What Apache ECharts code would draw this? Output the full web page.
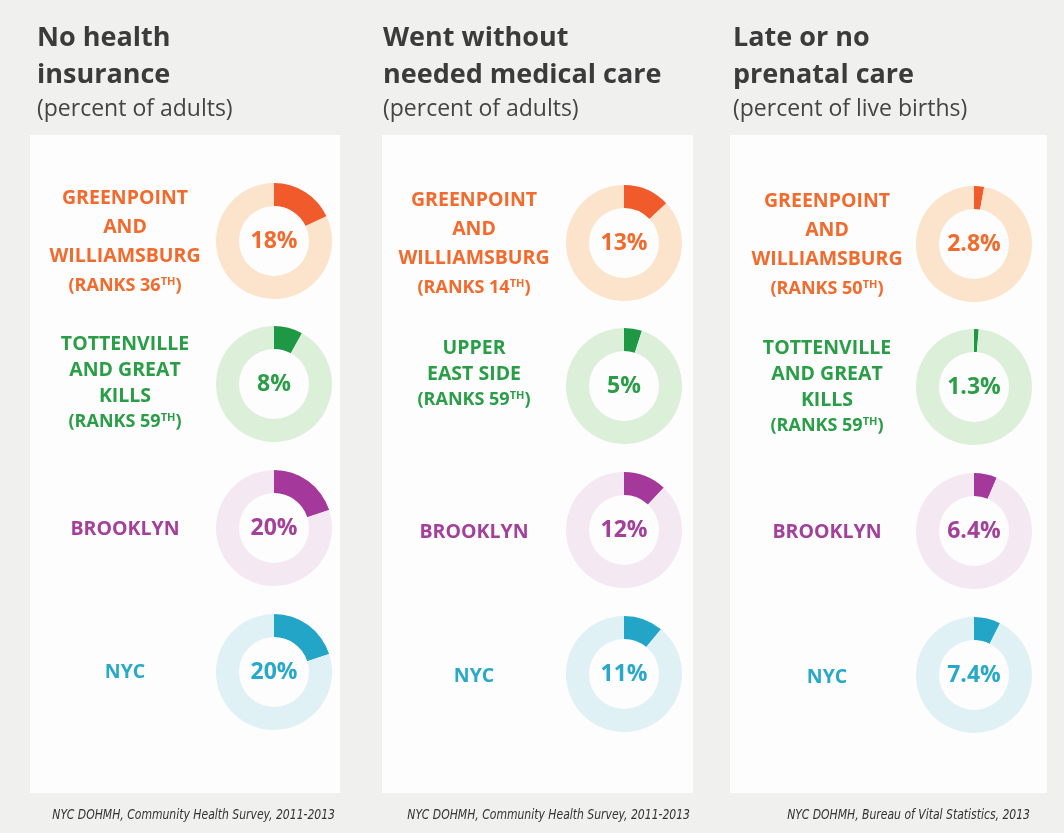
<!DOCTYPE html>
<html>
<head>
<meta charset="utf-8">
<script src="https://cdn.jsdelivr.net/npm/echarts@6/dist/echarts.min.js"></script>
<style>
  html, body { margin: 0; padding: 0; background: #f0f0ef; }
  #chart { width: 1064px; height: 833px; }
</style>
</head>
<body>
<div id="chart"></div>
<script>
// ---------- DATA ----------
const panelTitles = [
  ['No health', 'insurance'],
  ['Went without', 'needed medical care'],
  ['Late or no', 'prenatal care']
];
const panelSubtitles = ['(percent of adults)', '(percent of adults)', '(percent of live births)'];

const noInsuranceGroups = [['GREENPOINT', 'AND', 'WILLIAMSBURG'], ['TOTTENVILLE', 'AND GREAT', 'KILLS'], ['BROOKLYN'], ['NYC']];
const noInsuranceRanks = ['36', '59', null, null];
const noInsuranceValues = [18, 8, 20, 20];

const withoutCareGroups = [['GREENPOINT', 'AND', 'WILLIAMSBURG'], ['UPPER', 'EAST SIDE'], ['BROOKLYN'], ['NYC']];
const withoutCareRanks = ['14', '59', null, null];
const withoutCareValues = [13, 5, 12, 11];

const prenatalGroups = [['GREENPOINT', 'AND', 'WILLIAMSBURG'], ['TOTTENVILLE', 'AND GREAT', 'KILLS'], ['BROOKLYN'], ['NYC']];
const prenatalRanks = ['50', '59', null, null];
const prenatalValues = [2.8, 1.3, 6.4, 7.4];

const valueDecimals = [0, 0, 1];
const sources = [
  'NYC DOHMH, Community Health Survey, 2011-2013',
  'NYC DOHMH, Community Health Survey, 2011-2013',
  'NYC DOHMH, Bureau of Vital Statistics, 2013'
];

// ---------- STYLE / LAYOUT ----------
const rowColors = [
  { main: '#f15a2b', track: '#fbe4cb', text: '#f26a2c' },
  { main: '#1f9846', track: '#dcefd8', text: '#2a9e47' },
  { main: '#a5399b', track: '#f4e8f3', text: '#a3409a' },
  { main: '#22a5c7', track: '#dff1f5', text: '#29a9ca' }
];
const panels = [
  { groups: noInsuranceGroups, ranks: noInsuranceRanks, values: noInsuranceValues },
  { groups: withoutCareGroups, ranks: withoutCareRanks, values: withoutCareValues },
  { groups: prenatalGroups, ranks: prenatalRanks, values: prenatalValues }
];
const panelRects = [
  { x: 30, y: 135, w: 310, h: 658 },
  { x: 382, y: 135, w: 311, h: 658 },
  { x: 730, y: 135, w: 317, h: 658 }
];
const titleX = [37, 383, 733];
const donutX = [274, 624, 974];
const labelX = [125, 474, 827];
const rowY = [241, 384, 528, 672];
const panelDy = [0, 2, 3];
const labelDy = [[1, -1, 1, 0], [1, -12, 2, 2], [1, 0, 1, 2]];
const rowLineHeight = [29, 26];
const sourceRight = [335, 690, 1030];

const FONT = '"Open Sans", "Noto Sans", sans-serif';
const graphics = [];
const series = [];

panels.forEach((p, pi) => {
  const r = panelRects[pi];
  graphics.push({ type: 'rect', z: 0, shape: { x: r.x, y: r.y, width: r.w, height: r.h },
    style: { fill: '#fdfdfd' } });
  panelTitles[pi].forEach((t, li) => {
    graphics.push({ type: 'text', z: 5, x: titleX[pi], y: 38 + li * 37,
      style: { text: t, fill: '#3b3b3b', fontFamily: FONT, fontWeight: 'bold', fontSize: 27,
        align: 'left', verticalAlign: 'middle' } });
  });
  graphics.push({ type: 'text', z: 5, x: titleX[pi], y: 109,
    style: { text: panelSubtitles[pi], fill: '#444', fontFamily: FONT, fontSize: 23,
      align: 'left', verticalAlign: 'middle' } });
  graphics.push({ type: 'text', z: 5, x: sourceRight[pi], y: 815, scaleX: 0.86,
    style: { text: sources[pi], fill: '#333', fontFamily: '"Liberation Sans Narrow", "DejaVu Sans Condensed", sans-serif',
      fontStyle: 'italic', fontSize: 14, align: 'right', verticalAlign: 'middle' } });

  p.values.forEach((v, ri) => {
    const c = rowColors[ri];
    const cy = rowY[ri] + panelDy[pi];
    const lh = rowLineHeight[ri] || 26;
    let txt = p.groups[ri].join('\n');
    if (p.ranks[ri]) txt += '\n{r|(RANKS ' + p.ranks[ri] + '}{s|TH}{r|)}';
    graphics.push({ type: 'text', z: 5, x: labelX[pi], y: cy + labelDy[pi][ri],
      style: { text: txt, fill: c.text, fontFamily: FONT, fontWeight: 'bold', fontSize: 19.5,
        lineHeight: lh, align: 'center', verticalAlign: 'middle',
        rich: {
          r: { fill: c.text, fontFamily: FONT, fontWeight: 'bold', fontSize: 18, lineHeight: lh },
          s: { fill: c.text, fontFamily: FONT, fontWeight: 'bold', fontSize: 11, lineHeight: lh, padding: [0, 0, 8, 0] }
        } } });

    series.push({
      type: 'pie', silent: true, animation: false,
      center: [donutX[pi], cy], radius: [35, 58],
      startAngle: 90, clockwise: true, avoidLabelOverlap: false,
      labelLine: { show: false },
      label: {
        show: true, position: 'center', color: c.text, fontFamily: FONT, fontWeight: 'bold', fontSize: 23,
        formatter: (prm) => prm.value.toFixed(valueDecimals[pi]) + '%'
      },
      emphasis: { disabled: true },
      data: [
        { value: v, itemStyle: { color: c.main } },
        { value: 100 - v, itemStyle: { color: c.track }, label: { show: false } }
      ]
    });
  });
});

const chart = echarts.init(document.getElementById('chart'), null, { renderer: 'canvas' });
chart.setOption({
  backgroundColor: '#f0f0ef',
  animation: false,
  graphic: graphics,
  series: series
});
</script>
</body>
</html>
